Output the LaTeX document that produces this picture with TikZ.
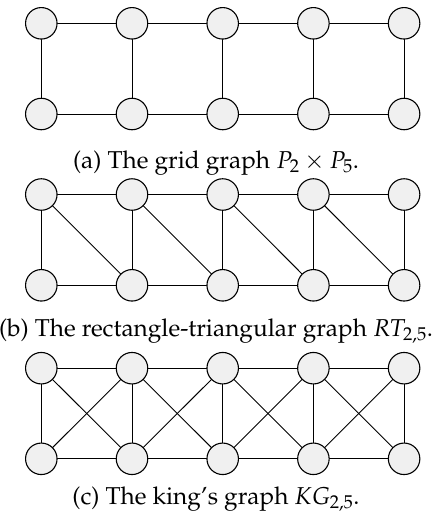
\documentclass[tikz,border=0pt]{standalone}
\usepackage[T1]{fontenc}
\usepackage{mathpazo}
\begin{document}
\begin{tikzpicture}[x=1pt,y=-1pt,
  vtx/.style={circle,draw=black,fill=black!6,minimum size=31.5pt,inner sep=0pt,line width=1.1pt},
  edg/.style={line width=0.9pt,black},
  captxt/.style={anchor=base,inner sep=0pt,font=\fontsize{24.4}{29}\selectfont}]
\useasboundingbox (0,0) rectangle (432,520);
% rows
\foreach \g/\yt/\yb in {a/23.3/114, b/194.5/285.3, c/368.2/458.8}{
  \foreach \i [evaluate=\i as \xx using 41.3+90.7*(\i-1)] in {1,...,5}{
    \coordinate (\g t\i) at (\xx,\yt);
    \coordinate (\g b\i) at (\xx,\yb);
  }
}
% edges
\foreach \g in {a,b,c}{
  \foreach \i in {1,...,5}{ \draw[edg] (\g t\i) -- (\g b\i); }
  \foreach \i [evaluate=\i as \j using int(\i+1)] in {1,...,4}{
    \draw[edg] (\g t\i) -- (\g t\j);
    \draw[edg] (\g b\i) -- (\g b\j);
  }
}
\foreach \i [evaluate=\i as \j using int(\i+1)] in {1,...,4}{
  \draw[edg] (bt\i) -- (bb\j);
  \draw[edg] (ct\i) -- (cb\j);
  \draw[edg] (cb\i) -- (ct\j);
}
% vertices
\foreach \g in {a,b,c}{
  \foreach \i in {1,...,5}{
    \node[vtx] (\g T\i) at (\g t\i) {};
    \node[vtx] (\g B\i) at (\g b\i) {};
  }
}
\node[captxt] (capa) at (216,168) {(a) The grid graph $P_2\times P_5$.};
\node[captxt] (capb) at (216,336.5) {(b) The rectangle-triangular graph $RT_{2,5}$.};
\node[captxt] (capc) at (216,504) {(c) The king's graph $KG_{2,5}$.};
\end{tikzpicture}
\end{document}
